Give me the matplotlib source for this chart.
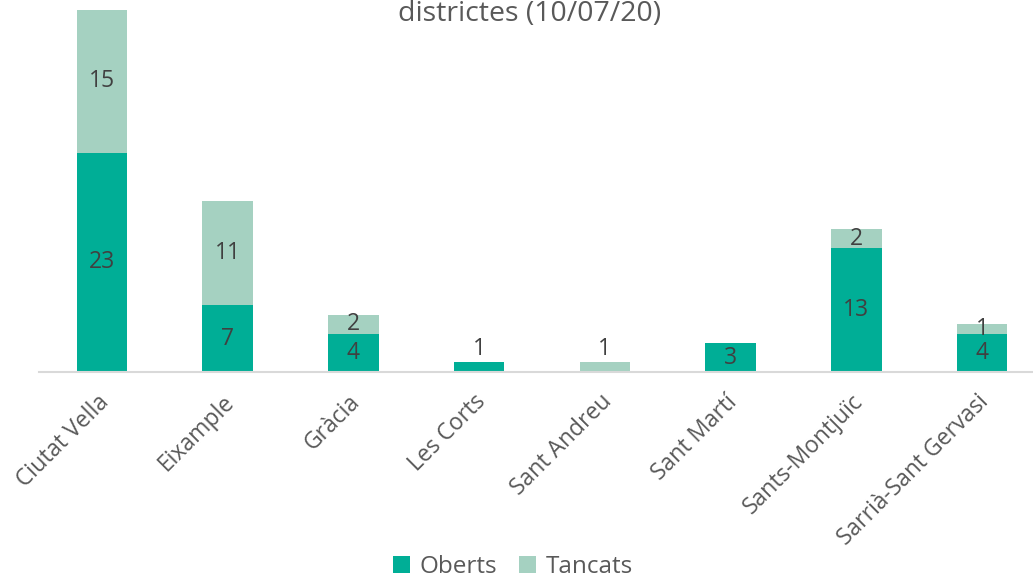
import matplotlib.pyplot as plt
import matplotlib.transforms as mtransforms
import numpy as np

districtes = ["Ciutat Vella", "Eixample", "Gràcia", "Les Corts", "Sant Andreu",
              "Sant Martí", "Sants-Montjuïc", "Sarrià-Sant Gervasi"]
oberts = [23, 7, 4, 1, 0, 3, 13, 4]
tancats = [15, 11, 2, 0, 1, 0, 2, 1]

COL_OBERTS = "#00AE96"
COL_TANCATS = "#A5D1C1"
TEXT = "#404040"

plt.rcParams['font.family'] = ['Open Sans', 'DejaVu Sans']

W, H = 1033, 579
fig = plt.figure(figsize=(W / 100, H / 100), dpi=100)
# plot area runs past the right edge, as in the cropped reference
ax = fig.add_axes([39 / W, (H - 372) / H, 1006 / W, 362 / H])

x = np.arange(len(districtes))
ob = np.array(oberts)
tc = np.array(tancats)
ax.bar(x, ob, width=0.4, color=COL_OBERTS, label="Oberts")
ax.bar(x, tc, width=0.4, bottom=ob, color=COL_TANCATS, label="Tancats")

for i in x:
    total = ob[i] + tc[i]
    for base, val in ((0, ob[i]), (ob[i], tc[i])):
        if val == 0:
            continue
        if total <= 1:
            ax.text(i, total + 0.2, str(val), ha="center", va="bottom",
                    fontsize=16.5, color=TEXT)
        else:
            ax.text(i, base + val / 2, str(val), ha="center", va="center",
                    fontsize=16.5, color=TEXT)

ax.set_xlim(-0.5, len(districtes) - 0.5)
ax.set_ylim(0, 38)
ax.set_yticks([])
ax.set_xticks(x)
ax.set_xticklabels(districtes, rotation=45, ha="right", rotation_mode="anchor",
                   fontsize=16.5, color="#595959")
ax.tick_params(axis="x", length=0, pad=13)
shift = mtransforms.ScaledTranslation(-5 / 100, 0, fig.dpi_scale_trans)
for lbl in ax.get_xticklabels():
    lbl.set_transform(lbl.get_transform() + shift)
for s in ("top", "right", "left"):
    ax.spines[s].set_visible(False)
ax.spines["bottom"].set_color("#D9D9D9")
ax.spines["bottom"].set_linewidth(1.5)

fig.text(530 / W, 1 - 14 / H, "districtes (10/07/20)", ha="center", va="center",
         fontsize=20.5, color="#595959")

fig.legend(loc="center", bbox_to_anchor=(513 / W, 1 - 567 / H), ncol=2,
           frameon=False, fontsize=17.5, handlelength=0.7, handleheight=0.7,
           handletextpad=0.4, columnspacing=0.9, labelcolor="#595959")

fig.savefig("out.png", dpi=100)
